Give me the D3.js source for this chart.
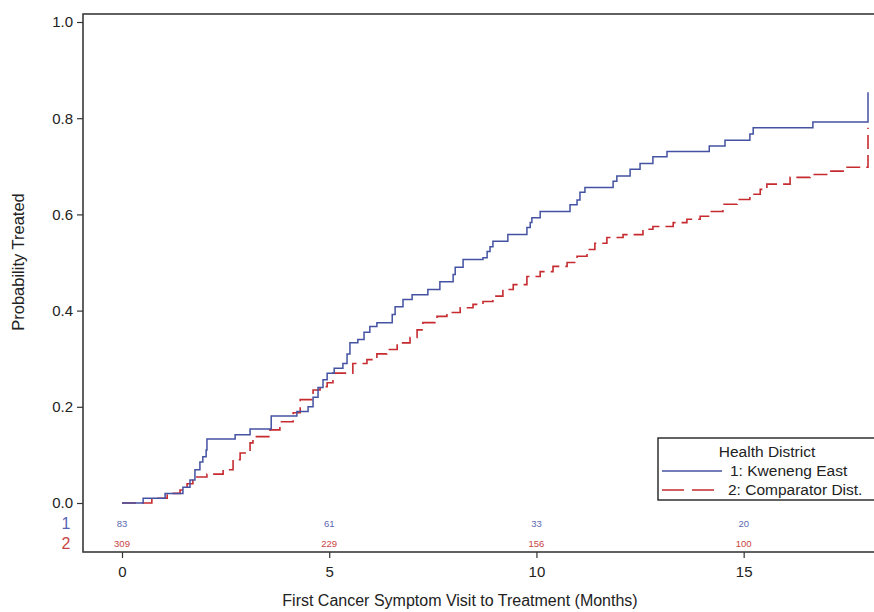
<!DOCTYPE html>
<html>
<head>
<meta charset="utf-8">
<script src="https://cdn.jsdelivr.net/npm/d3@7"></script>
<style>
  body { margin: 0; background: #fff; }
  svg { display: block; font-family: Arial, "Liberation Sans", sans-serif; }
</style>
</head>
<body>
<div id="chart"></div>
<script>
// Kaplan-Meier style cumulative curves (months, probability treated)
var blueTimes = [0, 0.51, 1.04, 1.47, 1.64, 1.76, 1.88, 1.95, 2.03, 2.05, 2.73, 3.09, 3.6, 4.22, 4.49, 4.61, 4.73, 4.85, 4.95, 5.12, 5.33, 5.43, 5.5, 5.69, 5.84, 5.98, 6.15, 6.52, 6.59, 6.78, 7.0, 7.38, 7.67, 7.99, 8.04, 8.23, 8.71, 8.81, 8.88, 8.95, 9.31, 9.77, 9.85, 9.89, 10.09, 10.81, 10.98, 11.05, 11.17, 11.85, 11.94, 12.26, 12.5, 12.81, 13.15, 14.17, 14.55, 15.15, 15.23, 16.67, 18.0];
var blueProb = [0, 0.01, 0.02, 0.033, 0.048, 0.069, 0.085, 0.096, 0.11, 0.133, 0.142, 0.154, 0.181, 0.19, 0.2, 0.22, 0.24, 0.256, 0.27, 0.28, 0.29, 0.31, 0.333, 0.34, 0.355, 0.367, 0.375, 0.392, 0.408, 0.423, 0.433, 0.444, 0.46, 0.475, 0.49, 0.506, 0.51, 0.523, 0.533, 0.544, 0.558, 0.573, 0.583, 0.593, 0.606, 0.62, 0.63, 0.646, 0.656, 0.669, 0.68, 0.694, 0.706, 0.72, 0.731, 0.742, 0.754, 0.767, 0.78, 0.792, 0.854];

var redTimes = [0, 0.72, 1.09, 1.4, 1.57, 1.71, 2.05, 2.44, 2.68, 2.85, 3.09, 3.16, 3.57, 3.81, 4.13, 4.3, 4.61, 4.78, 4.95, 5.09, 5.57, 5.91, 6.15, 6.39, 6.64, 6.95, 7.12, 7.26, 7.6, 7.84, 8.16, 8.47, 8.71, 8.95, 9.19, 9.44, 9.77, 10.09, 10.4, 10.74, 10.98, 11.22, 11.41, 11.7, 12.09, 12.57, 12.81, 13.3, 13.63, 13.95, 14.19, 14.5, 14.84, 15.15, 15.4, 15.56, 16.12, 16.6, 17.08, 17.4, 18.0];
var redProb = [0, 0.01, 0.02, 0.027, 0.04, 0.054, 0.06, 0.069, 0.09, 0.104, 0.125, 0.138, 0.152, 0.169, 0.1875, 0.215, 0.235, 0.242, 0.25, 0.27, 0.29, 0.298, 0.31, 0.319, 0.333, 0.344, 0.36, 0.375, 0.388, 0.396, 0.406, 0.413, 0.419, 0.43, 0.444, 0.454, 0.471, 0.481, 0.492, 0.5, 0.513, 0.527, 0.54, 0.552, 0.558, 0.569, 0.575, 0.583, 0.59, 0.596, 0.606, 0.621, 0.631, 0.642, 0.652, 0.663, 0.677, 0.683, 0.69, 0.698, 0.78];

var xTicks = [0, 5, 10, 15];
var yTicks = [0, 0.2, 0.4, 0.6, 0.8, 1.0];
var blueAtRisk = [83, 61, 33, 20];
var redAtRisk = [309, 229, 156, 100];
var legendTitle = "Health District";
var seriesNames = ["1: Kweneng East", "2: Comparator Dist."];

function init() {
    var width = 874;
    var height = 612;
    var blue = "#4352a2";
    var red = "#c62b30";

    var svg = d3.select("#chart")
        .append("svg")
        .attr("width", width)
        .attr("height", height);

    var x = d3.scaleLinear().domain([0, 18]).range([122, 868]);
    var y = d3.scaleLinear().domain([0, 1]).range([503, 22]);

    var frame = { left: 83, top: 14, right: 900, bottom: 552 };

    // frame box (right side runs off the picture)
    svg.append("rect")
        .attr("x", frame.left)
        .attr("y", frame.top)
        .attr("width", frame.right - frame.left)
        .attr("height", frame.bottom - frame.top)
        .attr("fill", "none")
        .attr("stroke", "#3a3a3a")
        .attr("stroke-width", 1.6);

    // y axis
    var yAxis = d3.axisLeft(y)
        .tickValues(yTicks)
        .tickFormat(d3.format(".1f"))
        .tickSize(6)
        .tickPadding(4);
    var gy = svg.append("g")
        .attr("transform", "translate(" + frame.left + ",0)")
        .call(yAxis);
    gy.select(".domain").remove();
    gy.selectAll("text").attr("font-size", 15).attr("fill", "#222");
    gy.selectAll("line").attr("stroke", "#333").attr("stroke-width", 1.2);

    // x axis
    var xAxis = d3.axisBottom(x)
        .tickValues(xTicks)
        .tickFormat(d3.format("d"))
        .tickSize(6)
        .tickPadding(8);
    var gx = svg.append("g")
        .attr("transform", "translate(0," + frame.bottom + ")")
        .call(xAxis);
    gx.select(".domain").remove();
    gx.selectAll("text").attr("font-size", 15).attr("fill", "#222");
    gx.selectAll("line").attr("stroke", "#333").attr("stroke-width", 1.2);

    // axis titles
    svg.append("text")
        .attr("transform", "translate(24,262) rotate(-90)")
        .attr("text-anchor", "middle")
        .attr("font-size", 16.5)
        .attr("fill", "#222")
        .text("Probability Treated");

    svg.append("text")
        .attr("x", 460)
        .attr("y", 606)
        .attr("text-anchor", "middle")
        .attr("font-size", 16)
        .attr("fill", "#222")
        .text("First Cancer Symptom Visit to Treatment (Months)");

    // curves
    var line = d3.line()
        .x(function (d) { return x(d[0]); })
        .y(function (d) { return y(d[1]); })
        .curve(d3.curveStepAfter);

    var redData = redTimes.map(function (t, i) { return [t, redProb[i]]; });
    var blueData = blueTimes.map(function (t, i) { return [t, blueProb[i]]; });

    svg.append("path")
        .attr("d", line(redData))
        .attr("fill", "none")
        .attr("stroke", red)
        .attr("stroke-width", 1.6)
        .attr("stroke-dasharray", "14,6");

    svg.append("path")
        .attr("d", line(blueData))
        .attr("fill", "none")
        .attr("stroke", blue)
        .attr("stroke-width", 1.5);

    // at-risk table
    svg.append("text").attr("x", 66).attr("y", 529)
        .attr("text-anchor", "middle").attr("font-size", 16)
        .attr("fill", "#5565b5").text("1");
    svg.append("text").attr("x", 66).attr("y", 549)
        .attr("text-anchor", "middle").attr("font-size", 16)
        .attr("fill", "#c84444").text("2");

    svg.selectAll(".risk1")
        .data(blueAtRisk)
        .enter()
        .append("text")
        .attr("x", function (d, i) { return x(xTicks[i]); })
        .attr("y", 527)
        .attr("text-anchor", "middle")
        .attr("font-size", 9.5)
        .attr("fill", "#5a68b0")
        .text(function (d) { return d; });

    svg.selectAll(".risk2")
        .data(redAtRisk)
        .enter()
        .append("text")
        .attr("x", function (d, i) { return x(xTicks[i]); })
        .attr("y", 547)
        .attr("text-anchor", "middle")
        .attr("font-size", 9.5)
        .attr("fill", "#c84444")
        .text(function (d) { return d; });

    // legend
    var lg = svg.append("g");
    lg.append("rect")
        .attr("x", 658).attr("y", 438)
        .attr("width", 230).attr("height", 62)
        .attr("fill", "#fff")
        .attr("stroke", "#222")
        .attr("stroke-width", 1.4);
    lg.append("text")
        .attr("x", 767).attr("y", 457)
        .attr("text-anchor", "middle")
        .attr("font-size", 15.5)
        .attr("fill", "#222")
        .text(legendTitle);
    lg.append("line")
        .attr("x1", 662).attr("x2", 722).attr("y1", 471).attr("y2", 471)
        .attr("stroke", blue).attr("stroke-width", 1.5);
    lg.append("line")
        .attr("x1", 662).attr("x2", 722).attr("y1", 490).attr("y2", 490)
        .attr("stroke", red).attr("stroke-width", 1.6)
        .attr("stroke-dasharray", "22,8");
    lg.append("text")
        .attr("x", 730).attr("y", 476)
        .attr("font-size", 15.5)
        .attr("fill", "#222")
        .text(seriesNames[0]);
    lg.append("text")
        .attr("x", 728).attr("y", 495)
        .attr("font-size", 15.5)
        .attr("fill", "#222")
        .text(seriesNames[1]);
}

window.onload = init;
</script>
</body>
</html>
